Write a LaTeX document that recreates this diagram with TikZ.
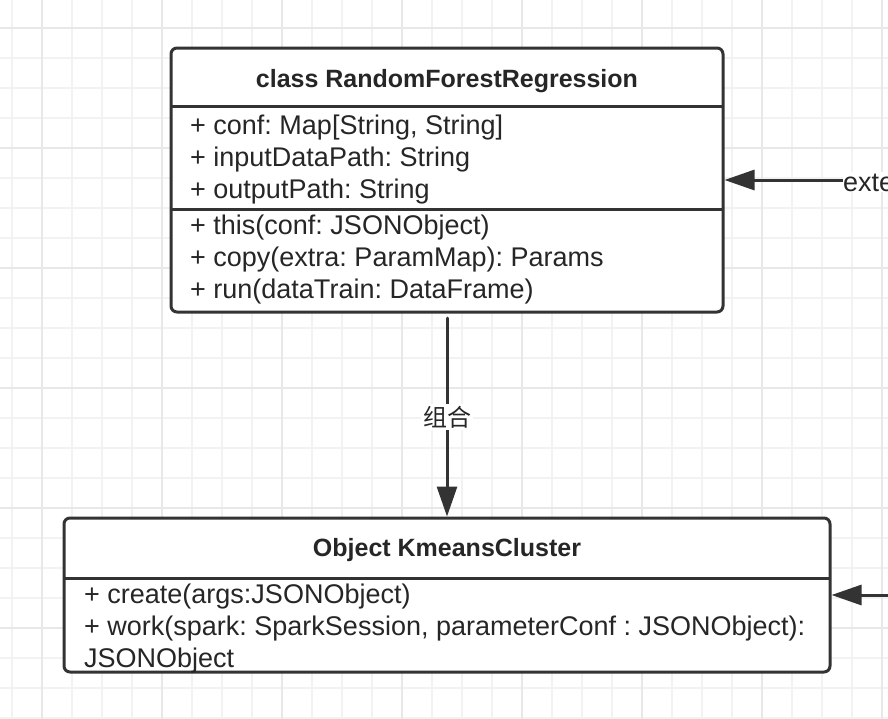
\documentclass[tikz,border=0pt]{standalone}
\usepackage{fontspec}
\setmainfont{Liberation Sans}
\newfontfamily\cjkfont{Noto Sans CJK SC}
\usetikzlibrary{arrows.meta}
\frenchspacing

\begin{document}
\begin{tikzpicture}[line cap=round,line join=round,x=1pt,y=-1pt,
  >={Triangle[length=30pt,width=20pt]},
  umlbox/.style={draw=black!80,line width=3pt,fill=white,rounded corners=6pt},
  sepline/.style={draw=black!80,line width=3pt,line cap=butt},
  conn/.style={->,draw=black!80,line width=3pt},
  member/.style={anchor=west,inner sep=0pt,text=black!85,font=\fontsize{27}{32}\selectfont},
  header/.style={inner sep=0pt,text=black!85,font=\bfseries\fontsize{25}{30}\selectfont},
  minorgrid/.style={draw=black!5,line width=2pt},
  majorgrid/.style={draw=black!9,line width=2pt}]
\clip (0,0) rectangle (888,718);
\fill[white] (0,0) rectangle (888,718);
% grid
\foreach \x in {12,42,...,882} \draw[minorgrid] (\x,0) -- (\x,718);
\foreach \y in {28,58,...,718} \draw[minorgrid] (0,\y) -- (888,\y);
\foreach \x in {42,162,...,882} \draw[majorgrid] (\x,0) -- (\x,718);
\foreach \y in {28,148,...,718} \draw[majorgrid] (0,\y) -- (888,\y);
% class RandomForestRegression
\node[umlbox,minimum width=552pt,minimum height=264pt] (rfr) at (447,180) {};
\draw[sepline] (171,106) -- (723,106);
\draw[sepline] (171,209) -- (723,209);
\node[header] (rfrname) at (447,81) {class RandomForestRegression};
\node[member] (rfrconf) at (190,128) {+ conf: Map[String, String]};
\node[member] (rfrin) at (190,160) {+ inputDataPath: String};
\node[member] (rfrout) at (190,192) {+ outputPath: String};
\node[member] (rfrthis) at (190,228) {+ this(conf: JSONObject)};
\node[member] (rfrcopy) at (190,260) {+ copy(extra: ParamMap): Params};
\node[member] (rfrrun) at (190,292) {+ run(dataTrain: DataFrame)};
% object KmeansCluster
\node[umlbox,minimum width=766pt,minimum height=154pt] (kmc) at (447,595) {};
\draw[sepline] (64,578) -- (830,578);
\node[header] (kmcname) at (447,550) {Object KmeansCluster};
\node[member] (kmccreate) at (84,597) {+ create(args:JSONObject)};
\node[member] (kmcwork) at (84,629) {+ work(spark: SparkSession, parameterConf : JSONObject):};
\node[member] (kmcret) at (84,661) {JSONObject};
% connectors
\draw[conn] ([yshift=-4.5pt]rfr.south) -- node[fill=white,inner sep=2pt,text=black!85,font=\cjkfont\fontsize{24}{28}\selectfont] (compose) {组合} (kmc.north);
\coordinate (extsrc) at (843,180);
\draw[conn] (extsrc) -- (rfr.east);
\node[member,fill=white] (extlbl) at ([yshift=-2pt]extsrc) {extends};
\coordinate (kmcsrc) at (900,595);
\draw[conn] (kmcsrc) -- (kmc.east);
\end{tikzpicture}
\end{document}
